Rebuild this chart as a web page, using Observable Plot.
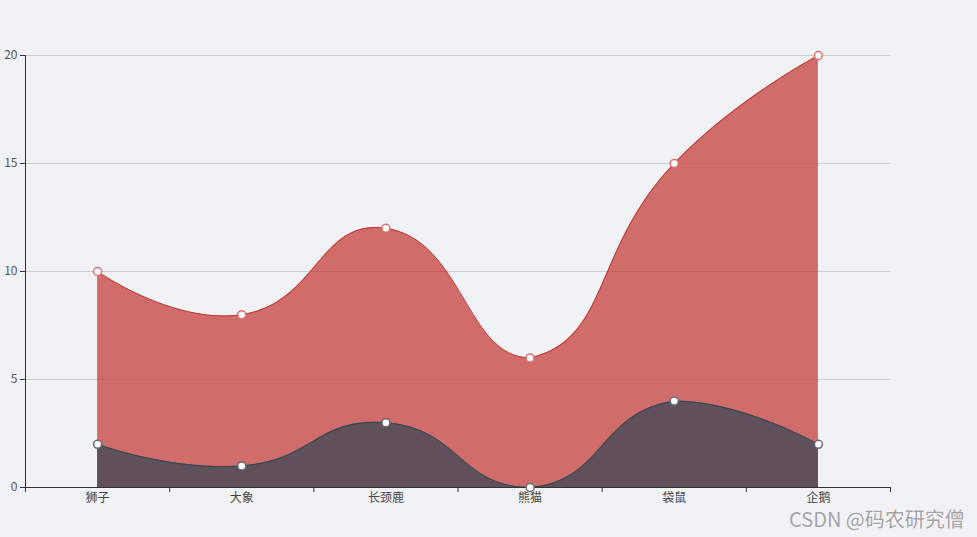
<!DOCTYPE html>
<html><head><meta charset="utf-8">
<script src="https://cdn.jsdelivr.net/npm/d3@7"></script>
<script src="https://cdn.jsdelivr.net/npm/@observablehq/plot@0.6"></script>
<style>
html,body{margin:0;padding:0;background:#f1f2f5;}
#wrap{position:relative;width:977px;height:537px;overflow:hidden;background:#f1f2f5;}
#wrap svg{display:block;}
#wm{position:absolute;left:789px;top:509px;font-family:"Noto Sans CJK SC","Noto Sans",sans-serif;font-size:20px;line-height:20px;color:#a3a3a3;white-space:nowrap;text-shadow:0 0 1px #fff,0 0 1px #fff;}
</style></head><body>
<div id="wrap"></div>
<script>
const categories = ["狮子", "大象", "长颈鹿", "熊猫", "袋鼠", "企鹅"];
const seriesRed = [10, 8, 12, 6, 15, 20];
const seriesDark = [2, 1, 3, 0, 4, 2];
const yTicks = [0, 5, 10, 15, 20];
const colors = ["#c23531", "#2f4554"];
const markerStrokes = ["#d9706d", "#5d6d79"];
const watermark = "CSDN @码农研究僧";

const rows = categories.map((c, i) => ({i, c, red: seriesRed[i], dark: seriesDark[i]}));

// ECharts-4-like smooth curve (smooth = 0.5, bounding-box constrained)
function echartsSmooth(context) {
  let pts = [], lineIdx = NaN;
  const smooth = 0.5;
  function bboxOf(list) {
    let x0 = Infinity, y0 = Infinity, x1 = -Infinity, y1 = -Infinity;
    for (const [x, y] of list) { if (x < x0) x0 = x; if (y < y0) y0 = y; if (x > x1) x1 = x; if (y > y1) y1 = y; }
    return [x0, y0, x1, y1];
  }
  function clamp(p, b) {
    return [Math.max(b[0], Math.min(b[2], p[0])), Math.max(b[1], Math.min(b[3], p[1]))];
  }
  function drawSeg(p, first, b) {
    let cp0 = null;
    for (let k = 0; k < p.length; k++) {
      const [x, y] = p[k];
      if (k === 0) {
        if (first) context.moveTo(x, y); else context.lineTo(x, y);
        cp0 = [x, y];
        continue;
      }
      const prev = p[k - 1], next = p[k + 1];
      let cp1, ratio = 0.5, v = [0, 0];
      if (!next) cp1 = [x, y];
      else {
        v = [next[0] - prev[0], next[1] - prev[1]];
        const lp = Math.hypot(x - prev[0], y - prev[1]);
        const ln = Math.hypot(next[0] - x, next[1] - y);
        ratio = (lp + ln) > 0 ? ln / (ln + lp) : 0.5;
        cp1 = [x - v[0] * smooth * (1 - ratio), y - v[1] * smooth * (1 - ratio)];
      }
      cp0 = clamp(cp0, b); cp1 = clamp(cp1, b);
      context.bezierCurveTo(cp0[0], cp0[1], cp1[0], cp1[1], x, y);
      cp0 = [x + v[0] * smooth * ratio, y + v[1] * smooth * ratio];
    }
  }
  return {
    areaStart() { lineIdx = 0; },
    areaEnd() { lineIdx = NaN; },
    lineStart() { pts = []; },
    point(x, y) { pts.push([+x, +y]); },
    lineEnd() {
      drawSeg(pts, lineIdx !== 1, bboxOf(pts));
      if (lineIdx === 1) context.closePath();
      if (!isNaN(lineIdx)) lineIdx = 1 - lineIdx;
    }
  };
}

const font = '"Noto Sans CJK SC","Noto Sans",sans-serif';
const chart = Plot.plot({
  width: 977, height: 537,
  marginLeft: 25, marginRight: 87, marginTop: 55, marginBottom: 50,
  style: {background: "transparent", fontFamily: font, fontSize: "12px"},
  x: {type: "linear", domain: [-0.5, categories.length - 0.5], label: null},
  y: {domain: [0, 20], label: null},
  marks: [
    Plot.gridY(yTicks, {stroke: "#cccccc", strokeOpacity: 1}),
    Plot.areaY(rows, {x: "i", y: "red", curve: echartsSmooth, fill: colors[0], fillOpacity: 0.7}),
    Plot.lineY(rows, {x: "i", y: "red", curve: echartsSmooth, stroke: colors[0], strokeWidth: 1}),
    Plot.areaY(rows, {x: "i", y: "dark", curve: echartsSmooth, fill: colors[1], fillOpacity: 0.7}),
    Plot.lineY(rows, {x: "i", y: "dark", curve: echartsSmooth, stroke: colors[1], strokeWidth: 1}),
    Plot.ruleX([-0.5], {stroke: "#333"}),
    Plot.ruleY([0], {stroke: "#333"}),
    Plot.axisY({ticks: yTicks, tickSize: 5, tickPadding: 3, stroke: "#333", fill: "#555", label: null, fontSize: 12}),
    Plot.axisX({ticks: d3.range(-0.5, categories.length), tickSize: 5, tickFormat: () => "", stroke: "#333", label: null}),
    Plot.axisX({ticks: d3.range(categories.length), tickSize: 0, tickPadding: 6, tickFormat: i => categories[i], fill: "#444", label: null, fontSize: 12}),
    Plot.dot(rows, {x: "i", y: "red", r: 4, fill: "#fff", stroke: markerStrokes[0], strokeWidth: 1.5}),
    Plot.dot(rows, {x: "i", y: "dark", r: 4, fill: "#fff", stroke: markerStrokes[1], strokeWidth: 1.5})
  ]
});
const wrap = document.getElementById("wrap");
wrap.appendChild(chart);
const wm = document.createElement("div");
wm.id = "wm";
wm.textContent = watermark;
wrap.appendChild(wm);
</script>
</body></html>
